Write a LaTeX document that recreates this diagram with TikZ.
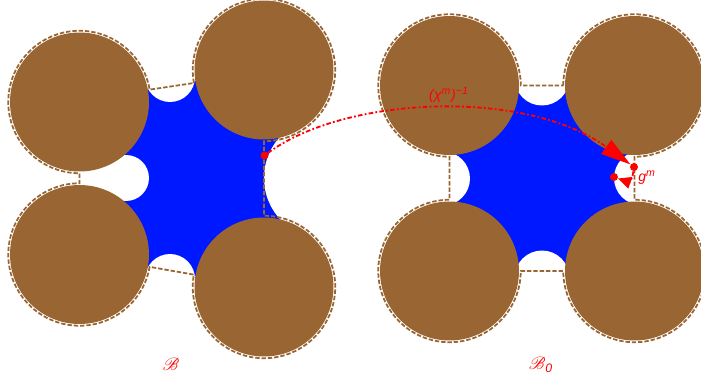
\documentclass[tikz,border=0pt]{standalone}
\usepackage{amsmath, amssymb}
\usepackage{mathrsfs}
\usepackage{fontspec}
\setmainfont{Liberation Sans}
\usetikzlibrary{arrows.meta, calc}
\definecolor{discbrown}{HTML}{996633}
\definecolor{regionblue}{HTML}{0018FF}
\tikzset{
    disc_brown/.style={
        circle, fill=discbrown, minimum size=2.78cm, inner sep=0pt
    },
    bump_white/.style={
        circle, fill=white, inner sep=0pt
    },
    ring_dash/.style={
        draw=discbrown, line width=1pt, dash pattern=on 2.5pt off 1.1pt
    },
    dot_red/.style={
        circle, fill=red, minimum size=0.16cm, inner sep=0pt
    },
    map_arrow/.style={
        draw=red, line width=1.05pt, dash pattern=on 2.6pt off 1.3pt on 1pt off 1.3pt
    },
    lbl_red/.style={
        font=\itshape\footnotesize, text=red, inner sep=0pt
    }
}

\begin{document}
\begin{tikzpicture}[x=0.02cm, y=0.02cm]
\clip (0,0) rectangle (701,380);

% centres, left piece
\coordinate (cA) at (264,310);
\coordinate (cB) at (79.5,278);
\coordinate (cC) at (79.5,125.5);
\coordinate (cD) at (264,93);
% centres, right piece
\coordinate (cE) at (634.5,294.5);
\coordinate (cF) at (449.5,294.5);
\coordinate (cG) at (449.5,109);
\coordinate (cH) at (634.5,109);

% blue regions
\fill[regionblue] (cB) -- (170,295) -- (cA) -- (300,202) -- (cD) -- (170,108) -- (cC) -- (124,180) -- (124,224) -- cycle;
\fill[regionblue] (cE) -- (cH) -- (cG) -- (cF) -- cycle;

% white bumps
\node[bump_white, minimum size=1.0cm] (bumpTop) at (170,303) {};
\node[bump_white, minimum size=1.0cm] (bumpBot) at (170,101) {};
\node[bump_white, minimum size=0.92cm] (bumpLeft) at (126,202) {};
\node[bump_white, minimum size=2.44cm] (bumpRight) at (325,202) {};
\node[bump_white, minimum size=1.1cm] (bumpTopB) at (542,302) {};
\node[bump_white, minimum size=1.1cm] (bumpBotB) at (542,102) {};
\node[bump_white, minimum size=1.08cm] (bumpLeftB) at (443,201.5) {};
\node[bump_white, minimum size=1.08cm] (bumpRightB) at (641,202) {};

% dashed outlines
\draw[ring_dash] ($(cA)+(190.5:1.425cm)$) arc[start angle=190.5, end angle=-90, radius=1.425cm]
    -- ($(cD)+(90:1.425cm)$) arc[start angle=90, end angle=-190, radius=1.425cm]
    -- ($(cC)+(-10:1.425cm)$) arc[start angle=-10, end angle=-270, radius=1.425cm]
    -- ($(cB)+(-90:1.425cm)$) arc[start angle=-90, end angle=-350, radius=1.425cm]
    -- cycle;
\draw[ring_dash] ($(cE)+(180:1.425cm)$) arc[start angle=180, end angle=-90, radius=1.425cm]
    -- ($(cH)+(90:1.425cm)$) arc[start angle=90, end angle=-180, radius=1.425cm]
    -- ($(cG)+(0:1.425cm)$) arc[start angle=0, end angle=-270, radius=1.425cm]
    -- ($(cF)+(-90:1.425cm)$) arc[start angle=-90, end angle=-360, radius=1.425cm]
    -- cycle;

% discs
\node[disc_brown] (discA) at (cA) {};
\node[disc_brown] (discB) at (cB) {};
\node[disc_brown] (discC) at (cC) {};
\node[disc_brown] (discD) at (cD) {};
\node[disc_brown] (discE) at (cE) {};
\node[disc_brown] (discF) at (cF) {};
\node[disc_brown] (discG) at (cG) {};
\node[disc_brown] (discH) at (cH) {};

% points and maps
\node[dot_red] (pt) at (264.5,224.5) {};
\node[dot_red] (ptImg) at (634,213) {};
\node[dot_red] (ptBase) at (614,203) {};
\draw[map_arrow, -{Triangle[length=0.6cm, width=0.34cm]}] (pt) .. controls (345,284) and (525,292) .. (ptImg);
\draw[map_arrow, -{Triangle[length=0.26cm, width=0.24cm]}] (ptImg) .. controls (632,198) and (628,198) .. (ptBase);

% labels
\node[lbl_red] (chiLbl) at (449,285) {(χ\textsuperscript{m})\textsuperscript{−1}};
\node[lbl_red] (gLbl) at (647,202) {g\textsuperscript{m}};
\node[lbl_red, font=\normalsize] (bLbl) at (171,16) {$\mathscr{B}$};
\node[lbl_red, font=\normalsize] (bzeroLbl) at (541,15) {$\mathscr{B}$\textit{\textsubscript{0}}};
\end{tikzpicture}
\end{document}
